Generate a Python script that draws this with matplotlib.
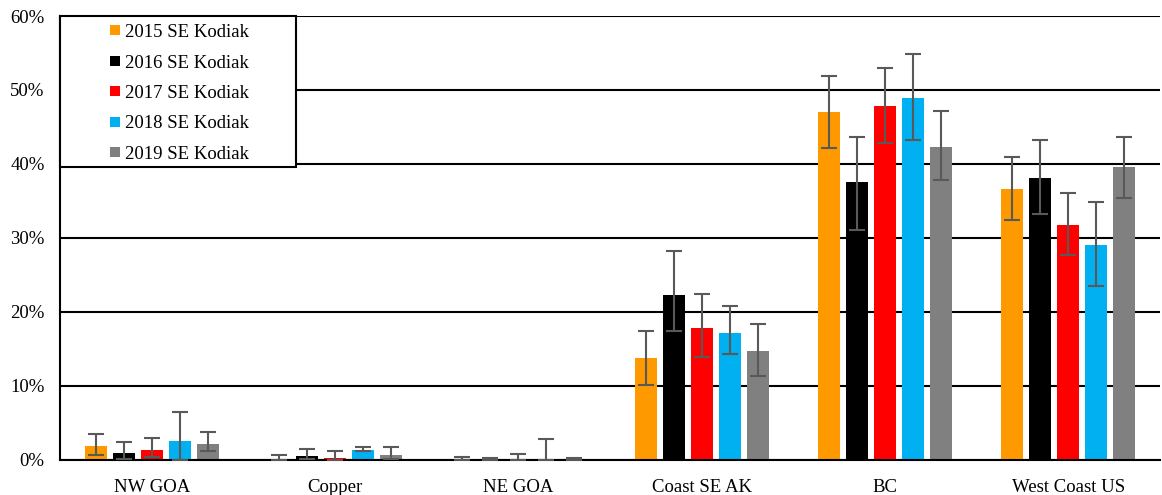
import numpy as np
import matplotlib
matplotlib.use("Agg")
from matplotlib import pyplot as plt
from matplotlib.patches import Rectangle

plt.rcParams['font.family'] = ['Liberation Serif', 'DejaVu Serif']

# categories and series (percent)
regions = ['NW GOA', 'Copper', 'NE GOA', 'Coast SE AK', 'BC', 'West Coast US']
years = ['2015 SE Kodiak', '2016 SE Kodiak', '2017 SE Kodiak', '2018 SE Kodiak', '2019 SE Kodiak']
colors = ['#FF9900', '#000000', '#FF0000', '#00B0F0', '#808080']

# values per year, one per region
val2015 = [1.9, 0.0, 0.0, 13.8, 47.0, 36.6]
val2016 = [1.0, 0.55, 0.0, 22.3, 37.6, 38.1]
val2017 = [1.4, 0.27, 0.0, 17.9, 47.9, 31.8]
val2018 = [2.55, 1.4, 0.0, 17.2, 48.9, 29.0]
val2019 = [2.2, 0.68, 0.0, 14.75, 42.3, 39.6]

# upper / lower bounds of the error bars
hi2015 = [3.45, 0.73, 0.45, 17.5, 51.9, 41.0]
lo2015 = [0.73, 0.0, 0.0, 10.15, 42.1, 32.5]
hi2016 = [2.45, 1.55, 0.32, 28.2, 43.7, 43.3]
lo2016 = [0.1, 0.18, 0.0, 17.4, 31.1, 33.2]
hi2017 = [3.0, 1.2, 0.77, 22.4, 53.0, 36.1]
lo2017 = [0.36, 0.0, 0.0, 13.9, 42.8, 27.7]
hi2018 = [6.5, 1.77, 2.86, 20.8, 54.9, 34.9]
lo2018 = [0.0, 1.23, 0.0, 14.3, 43.2, 23.5]
hi2019 = [3.8, 1.73, 0.32, 18.4, 47.2, 43.7]
lo2019 = [1.2, 0.18, 0.0, 11.3, 37.8, 35.4]

values = [val2015, val2016, val2017, val2018, val2019]
highs = [hi2015, hi2016, hi2017, hi2018, hi2019]
lows = [lo2015, lo2016, lo2017, lo2018, lo2019]

fig = plt.figure(figsize=(11.62, 4.95), dpi=100)
ax = fig.add_axes([60/1162, 35/495, 1100/1162, 444/495])

x = np.arange(len(regions))
step = 0.153
width = 0.12
handles = []
for i in range(len(years)):
    v = np.array(values[i])
    err = [v - np.array(lows[i]), np.array(highs[i]) - v]
    pos = x + (i - 2) * step
    b = ax.bar(pos, v, width, color=colors[i], zorder=2, label=years[i])
    ax.errorbar(pos, v, yerr=err, fmt='none', ecolor='#595959', elinewidth=1.5,
                capsize=6, capthick=1.5, zorder=3)
    handles.append(b)

ax.set_xlim(-0.5, 5.5)
ax.set_ylim(0, 60)
ax.set_yticks(range(0, 61, 10))
ax.set_yticklabels([f'{t}%' for t in range(0, 61, 10)])
ax.set_xticks(x)
ax.set_xticklabels(regions)
ax.tick_params(axis='both', length=0, labelsize=13.5)
ax.tick_params(axis='x', pad=14)
ax.tick_params(axis='y', pad=11)
ax.yaxis.grid(True, color='black', linewidth=1.5, zorder=0)
ax.set_axisbelow(True)
for s in ['top', 'right']:
    ax.spines[s].set_visible(False)
ax.spines['left'].set_linewidth(1.5)
ax.spines['bottom'].set_linewidth(1.5)

# legend box
ax.add_patch(Rectangle((0, (460 - 167) / 444), (296 - 60) / 1100, 1 - (460 - 167) / 444,
                       transform=ax.transAxes, facecolor='white', edgecolor='black',
                       linewidth=1.5, zorder=4, clip_on=False))
leg = ax.legend(handles=handles, loc='upper left',
                bbox_to_anchor=((110 - 60) / 1100, (460 - 24) / 444),
                frameon=False, fontsize=13.5, borderpad=0, borderaxespad=0,
                handlelength=0.55, handleheight=0.45, handletextpad=0.25,
                labelspacing=0.72)
leg.set_zorder(5)

fig.savefig('out.png', dpi=100)
